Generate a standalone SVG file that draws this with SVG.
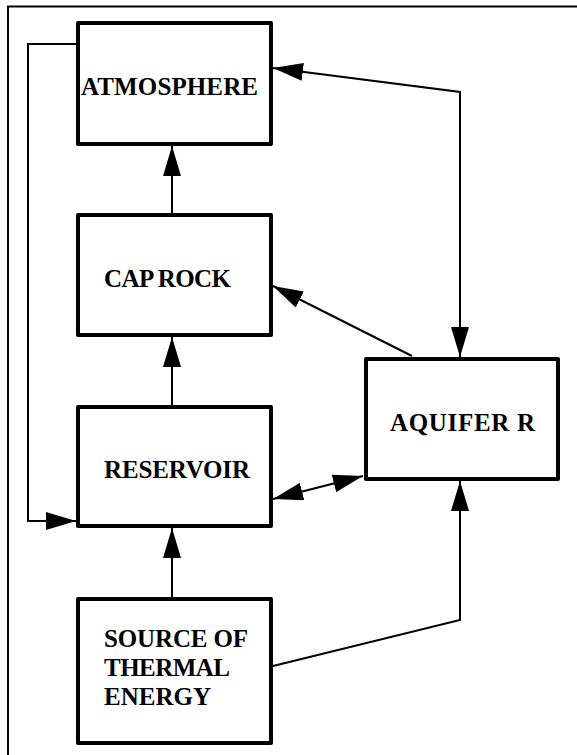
<svg xmlns="http://www.w3.org/2000/svg" width="577" height="755" viewBox="0 0 577 755">
<style>
.box{fill:#fff;stroke:#000;stroke-width:4;stroke-linejoin:round}
.lbl{font-family:'Liberation Serif','DejaVu Serif',serif;font-weight:bold;font-size:25px;fill:#000}
.con{fill:none;stroke:#000;stroke-width:2}
</style>
<defs>
<marker id="ah" markerUnits="userSpaceOnUse" markerWidth="30" markerHeight="18" viewBox="0 0 30 18" refX="30" refY="9" orient="auto-start-reverse">
<path d="M0,0 L30,9 L0,18 z" fill="#000"/>
</marker>
</defs>
<g id="frame">
<line x1="7" y1="6.5" x2="577" y2="6.5" stroke="#000" stroke-width="2"/>
<line x1="8" y1="6" x2="8" y2="755" stroke="#000" stroke-width="2"/>
</g>
<g id="connectors">
<path class="con" d="M78,44 H28 V521 H76" marker-end="url(#ah)"/>
<line class="con" x1="172" y1="213" x2="172" y2="146" marker-end="url(#ah)"/>
<line class="con" x1="172" y1="405" x2="172" y2="337" marker-end="url(#ah)"/>
<line class="con" x1="172" y1="597" x2="172" y2="528" marker-end="url(#ah)"/>
<path class="con" d="M273,68 L460,92 V357" marker-start="url(#ah)" marker-end="url(#ah)"/>
<line class="con" x1="412" y1="356" x2="273" y2="286" marker-end="url(#ah)"/>
<line class="con" x1="273" y1="499" x2="363" y2="476" marker-start="url(#ah)" marker-end="url(#ah)"/>
<path class="con" d="M273,666 L460,620 V481" marker-end="url(#ah)"/>
</g>
<g id="atmosphere">
<rect class="box" x="78" y="23" width="193" height="121"/>
<text class="lbl" x="81" y="95" textLength="177" lengthAdjust="spacing">ATMOSPHERE</text>
</g>
<g id="caprock">
<rect class="box" x="78" y="215" width="193" height="120"/>
<text class="lbl" x="104" y="287" textLength="127" lengthAdjust="spacing">CAP ROCK</text>
</g>
<g id="reservoir">
<rect class="box" x="78" y="407" width="193" height="119"/>
<text class="lbl" x="104" y="478" textLength="146" lengthAdjust="spacing">RESERVOIR</text>
</g>
<g id="aquifer">
<rect class="box" x="366" y="359" width="192" height="120"/>
<text class="lbl" x="390" y="431" textLength="145" lengthAdjust="spacing">AQUIFER R</text>
</g>
<g id="source">
<rect class="box" x="78" y="599" width="193" height="144"/>
<text class="lbl" x="104" y="647" textLength="144" lengthAdjust="spacing">SOURCE OF</text>
<text class="lbl" x="104" y="676" textLength="126" lengthAdjust="spacing">THERMAL</text>
<text class="lbl" x="104" y="705" textLength="107" lengthAdjust="spacing">ENERGY</text>
</g>
</svg>
